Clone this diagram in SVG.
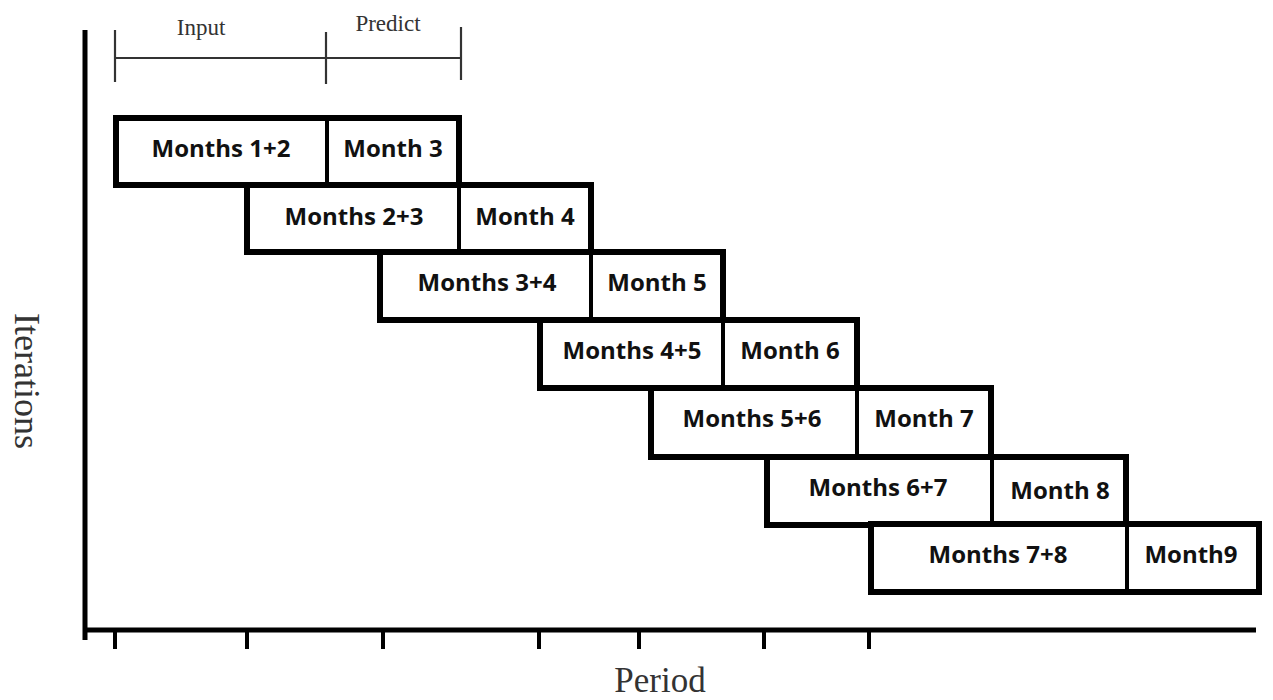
<svg xmlns="http://www.w3.org/2000/svg" width="1273" height="700" viewBox="0 0 1273 700">
  <style>
    .box { fill: #fff; stroke: #000; stroke-width: 6; }
    .div { stroke: #000; stroke-width: 4; }
    .axis { stroke: #000; stroke-width: 5; fill: none; }
    .tick { stroke: #000; stroke-width: 4; }
    .brk { stroke: #333; stroke-width: 2.2; fill: none; }
    .lbl { font-family: "Open Sans", "Liberation Sans", sans-serif; font-weight: 700; font-size: 24px; fill: #111; text-anchor: middle; }
    .ser { font-family: "Liberation Serif", "Times New Roman", serif; fill: #333; text-anchor: middle; }
  </style>
  <rect width="1273" height="700" fill="#fff"/>

  <!-- axes and tick marks -->
  <g id="axes">
    <line class="axis" x1="85" y1="30" x2="85" y2="640"/>
    <line class="axis" x1="83" y1="630" x2="1256" y2="630"/>
    <line class="tick" x1="115" y1="630" x2="115" y2="649"/>
    <line class="tick" x1="247" y1="630" x2="247" y2="649"/>
    <line class="tick" x1="383" y1="630" x2="383" y2="649"/>
    <line class="tick" x1="539" y1="630" x2="539" y2="649"/>
    <line class="tick" x1="639" y1="630" x2="639" y2="649"/>
    <line class="tick" x1="764" y1="630" x2="764" y2="649"/>
    <line class="tick" x1="869" y1="630" x2="869" y2="649"/>
  </g>
  <text class="ser" font-size="35" x="660" y="692">Period</text>
  <text class="ser" font-size="36" transform="translate(15,381) rotate(90)">Iterations</text>

  <!-- input / predict span -->
  <g id="span">
    <line class="brk" x1="115" y1="58" x2="461" y2="58"/>
    <line class="brk" x1="115" y1="30" x2="115" y2="82"/>
    <line class="brk" x1="326" y1="32" x2="326" y2="84"/>
    <line class="brk" x1="461" y1="27" x2="461" y2="80"/>
    <text class="ser" font-size="23" x="201" y="35">Input</text>
    <text class="ser" font-size="23" x="388" y="31">Predict</text>
  </g>

  <!-- sliding windows, one per iteration -->
  <g id="iter1">
    <rect class="box" x="116" y="118" width="343" height="67"/>
    <line class="div" x1="327" y1="118" x2="327" y2="185"/>
    <text class="lbl" x="221" y="157">Months 1+2</text>
    <text class="lbl" x="393" y="157">Month 3</text>
  </g>
  <g id="iter2">
    <rect class="box" x="247" y="185" width="344" height="67"/>
    <line class="div" x1="459" y1="185" x2="459" y2="252"/>
    <text class="lbl" x="354" y="225">Months 2+3</text>
    <text class="lbl" x="525" y="225">Month 4</text>
  </g>
  <g id="iter3">
    <rect class="box" x="380" y="252" width="343" height="68"/>
    <line class="div" x1="591" y1="252" x2="591" y2="320"/>
    <text class="lbl" x="487" y="291">Months 3+4</text>
    <text class="lbl" x="657" y="291">Month 5</text>
  </g>
  <g id="iter4">
    <rect class="box" x="540" y="320" width="317" height="68"/>
    <line class="div" x1="723" y1="320" x2="723" y2="388"/>
    <text class="lbl" x="632" y="359">Months 4+5</text>
    <text class="lbl" x="790" y="359">Month 6</text>
  </g>
  <g id="iter5">
    <rect class="box" x="651" y="388" width="340" height="69"/>
    <line class="div" x1="857" y1="388" x2="857" y2="457"/>
    <text class="lbl" x="752" y="427">Months 5+6</text>
    <text class="lbl" x="924" y="427">Month 7</text>
  </g>
  <g id="iter6">
    <rect class="box" x="767" y="457" width="359" height="68"/>
    <line class="div" x1="992" y1="457" x2="992" y2="525"/>
    <text class="lbl" x="878" y="496">Months 6+7</text>
    <text class="lbl" x="1060" y="499">Month 8</text>
  </g>
  <g id="iter7">
    <rect class="box" x="871" y="524" width="388" height="68"/>
    <line class="div" x1="1127" y1="524" x2="1127" y2="592"/>
    <text class="lbl" x="998" y="563">Months 7+8</text>
    <text class="lbl" x="1191" y="563">Month9</text>
  </g>
</svg>
